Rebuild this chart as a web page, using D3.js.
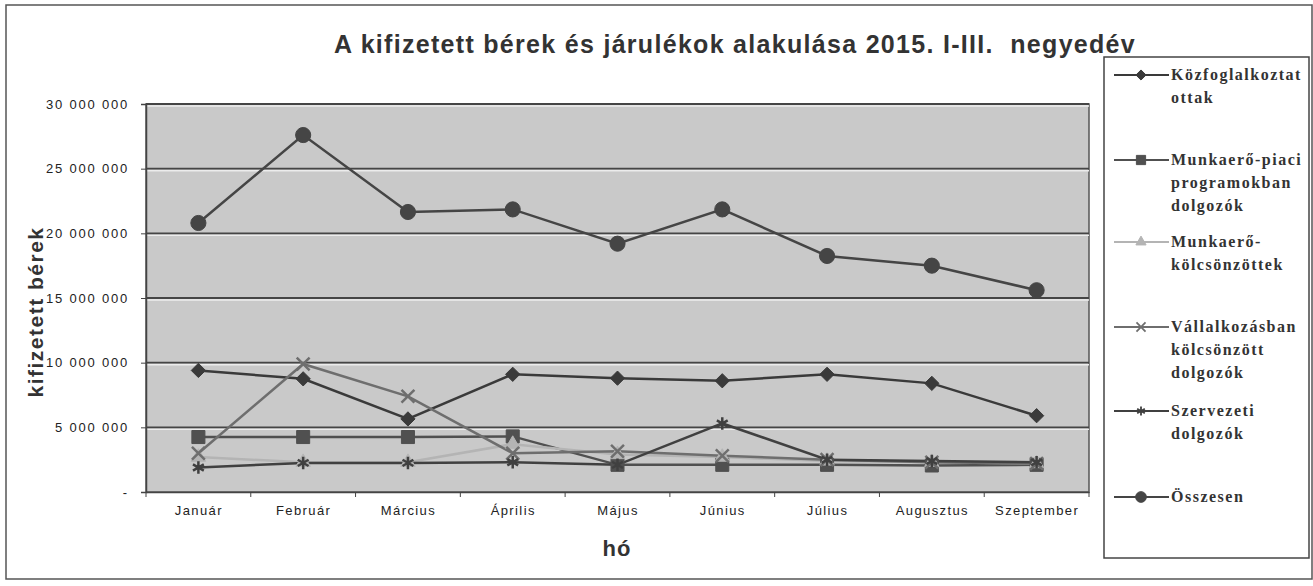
<!DOCTYPE html>
<html>
<head>
<meta charset="utf-8">
<script src="https://cdn.jsdelivr.net/npm/d3@7"></script>
<style>
  body { margin: 0; background: #fff; }
  svg { display: block; }
</style>
</head>
<body>
<div id="chart"></div>
<script>
const months = ["Január", "Február", "Március", "Április", "Május", "Június", "Július", "Augusztus", "Szeptember"];

const kozfoglalkoztatottak = [9400000, 8750000, 5650000, 9100000, 8800000, 8600000, 9100000, 8400000, 5900000];
const munkaeroPiaci        = [4250000, 4250000, 4250000, 4300000, 2100000, 2100000, 2100000, 2050000, 2100000];
const munkaeroKolcsonzott  = [2700000, 2300000, 2300000, 3700000, 2900000, 2700000, 2400000, 2300000, 2200000];
const vallalkozasban       = [3000000, 9900000, 7400000, 3000000, 3150000, 2800000, 2500000, 2300000, 2200000];
const szervezeti           = [1900000, 2250000, 2250000, 2300000, 2100000, 5300000, 2500000, 2400000, 2300000];
const osszesen             = [20800000, 27600000, 21650000, 21850000, 19200000, 21850000, 18250000, 17500000, 15600000];

const yTicks = [0, 5000000, 10000000, 15000000, 20000000, 25000000, 30000000];

const seriesNames = [
  ["Közfoglalkoztat", "ottak"],
  ["Munkaerő-piaci", "programokban", "dolgozók"],
  ["Munkaerő-", "kölcsönzöttek"],
  ["Vállalkozásban", "kölcsönzött", "dolgozók"],
  ["Szervezeti", "dolgozók"],
  ["Összesen"]
];

const series = [
  { name: seriesNames[0], values: kozfoglalkoztatottak, color: "#3a3a3a", symbol: d3.symbolDiamond2 || d3.symbolDiamond, size: 130, stroke: false },
  { name: seriesNames[1], values: munkaeroPiaci, color: "#505050", symbol: d3.symbolSquare, size: 170, stroke: false },
  { name: seriesNames[2], values: munkaeroKolcsonzott, color: "#b4b4b4", symbol: d3.symbolTriangle, size: 90, stroke: false },
  { name: seriesNames[3], values: vallalkozasban, color: "#6e6e6e", symbol: d3.symbolTimes || d3.symbolCross, size: 110, stroke: true },
  { name: seriesNames[4], values: szervezeti, color: "#404040", symbol: d3.symbolAsterisk || d3.symbolCross, size: 110, stroke: true },
  { name: seriesNames[5], values: osszesen, color: "#454545", symbol: d3.symbolCircle, size: 180, stroke: false }
];

const W = 1313, H = 586;
const plot = { left: 146, right: 1089, top: 104, bottom: 492 };

const svg = d3.select("#chart")
  .append("svg")
  .attr("width", W)
  .attr("height", H);

// outer frame
svg.append("rect")
  .attr("x", 6).attr("y", 5)
  .attr("width", 1306).attr("height", 574)
  .attr("fill", "#fff")
  .attr("stroke", "#555")
  .attr("stroke-width", 1.5);

// Scales
const x = d3.scalePoint()
  .domain(months)
  .range([plot.left, plot.right])
  .padding(0.5);

const y = d3.scaleLinear()
  .domain([0, 30000000])
  .range([plot.bottom, plot.top]);

// plot area
svg.append("rect")
  .attr("x", plot.left).attr("y", plot.top)
  .attr("width", plot.right - plot.left)
  .attr("height", plot.bottom - plot.top)
  .attr("fill", "#c9c9c9")
  .attr("stroke", "#555")
  .attr("stroke-width", 1.5);

// gridlines with light halo
const grid = svg.append("g");
yTicks.filter(t => t > 0).forEach(t => {
  grid.append("line")
    .attr("x1", plot.left).attr("x2", plot.right)
    .attr("y1", y(t) + 2).attr("y2", y(t) + 2)
    .attr("stroke", "#ececec").attr("stroke-width", 1.5);
  grid.append("line")
    .attr("x1", plot.left).attr("x2", plot.right)
    .attr("y1", y(t)).attr("y2", y(t))
    .attr("stroke", "#454545").attr("stroke-width", 1.8);
});

// Y axis
const fmt = v => v === 0 ? "-" : d3.format(",")(v).replace(/,/g, " ");
const yAxis = svg.append("g")
  .attr("transform", `translate(${plot.left},0)`)
  .call(d3.axisLeft(y).tickValues(yTicks).tickFormat(fmt).tickSize(5).tickPadding(12));
yAxis.select(".domain").attr("stroke", "#444").attr("stroke-width", 1.5);
yAxis.selectAll(".tick line").attr("stroke", "#444");
yAxis.selectAll("text")
  .style("font-family", "Liberation Sans, Arial, sans-serif")
  .style("font-size", "13px")
  .style("letter-spacing", "1.8px")
  .attr("fill", "#222");

// X axis
const step = x.step();
const xAxis = svg.append("g")
  .attr("transform", `translate(0,${plot.bottom})`)
  .call(d3.axisBottom(x).tickSize(0).tickPadding(14));
xAxis.select(".domain").attr("stroke", "#444").attr("stroke-width", 1.5);
xAxis.selectAll("text")
  .style("font-family", "Liberation Sans, Arial, sans-serif")
  .style("font-size", "13px")
  .style("letter-spacing", "1.4px")
  .attr("fill", "#222");
d3.range(months.length + 1).forEach(i => {
  const tx = plot.left + i * step;
  xAxis.append("line")
    .attr("x1", tx).attr("x2", tx)
    .attr("y1", 0).attr("y2", 5)
    .attr("stroke", "#444");
});

// Lines
const line = d3.line()
  .x((d, i) => x(months[i]))
  .y(d => y(d));

series.forEach(s => {
  svg.append("path")
    .datum(s.values)
    .attr("fill", "none")
    .attr("stroke", s.color)
    .attr("stroke-width", 2.5)
    .attr("d", line);
});

series.forEach(s => {
  const sym = d3.symbol().type(s.symbol).size(s.size);
  svg.append("g")
    .selectAll("path")
    .data(s.values)
    .join("path")
    .attr("transform", (d, i) => `translate(${x(months[i])},${y(d)})`)
    .attr("d", sym)
    .attr("fill", s.stroke ? "none" : s.color)
    .attr("stroke", s.color)
    .attr("stroke-width", s.stroke ? 2.5 : 1);
});

// Title
svg.append("text")
  .attr("x", 735)
  .attr("y", 53)
  .attr("text-anchor", "middle")
  .style("white-space", "pre")
  .style("font-family", "Liberation Sans, Arial, sans-serif")
  .style("font-weight", "bold")
  .style("font-size", "25px")
  .style("letter-spacing", "1.3px")
  .attr("fill", "#333")
  .text("A kifizetett bérek és járulékok alakulása 2015. I-III.  negyedév");

// Y label
svg.append("text")
  .attr("transform", "translate(43,312) rotate(-90)")
  .attr("text-anchor", "middle")
  .style("font-family", "Liberation Sans, Arial, sans-serif")
  .style("font-weight", "bold")
  .style("font-size", "21px")
  .style("letter-spacing", "1.5px")
  .attr("fill", "#333")
  .text("kifizetett bérek");

// X label
svg.append("text")
  .attr("x", 617)
  .attr("y", 556)
  .attr("text-anchor", "middle")
  .style("font-family", "Liberation Sans, Arial, sans-serif")
  .style("font-weight", "bold")
  .style("font-size", "22px")
  .style("letter-spacing", "1px")
  .attr("fill", "#333")
  .text("hó");

// Legend
const legend = svg.append("g");
legend.append("rect")
  .attr("x", 1104).attr("y", 57)
  .attr("width", 205).attr("height", 501)
  .attr("fill", "#fff")
  .attr("stroke", "#444")
  .attr("stroke-width", 1.5);

const legendY = [75, 160, 242, 327, 411, 497];
series.forEach((s, k) => {
  const ly = legendY[k];
  const g = legend.append("g");
  g.append("line")
    .attr("x1", 1114).attr("x2", 1169)
    .attr("y1", ly).attr("y2", ly)
    .attr("stroke", s.color)
    .attr("stroke-width", 2);
  g.append("path")
    .attr("transform", `translate(1141,${ly})`)
    .attr("d", d3.symbol().type(s.symbol).size(s.size * 0.5))
    .attr("fill", s.stroke ? "none" : s.color)
    .attr("stroke", s.color)
    .attr("stroke-width", s.stroke ? 1.8 : 1);
  const t = g.append("text")
    .attr("x", 1171)
    .attr("y", ly + 5)
    .style("font-family", "Liberation Serif, Times New Roman, serif")
    .style("font-weight", "bold")
    .style("font-size", "16px")
    .style("letter-spacing", "1.5px")
    .attr("fill", "#333");
  s.name.forEach((ln, j) => {
    t.append("tspan")
      .attr("x", 1171)
      .attr("dy", j === 0 ? 0 : 23)
      .text(ln);
  });
});
</script>
</body>
</html>
